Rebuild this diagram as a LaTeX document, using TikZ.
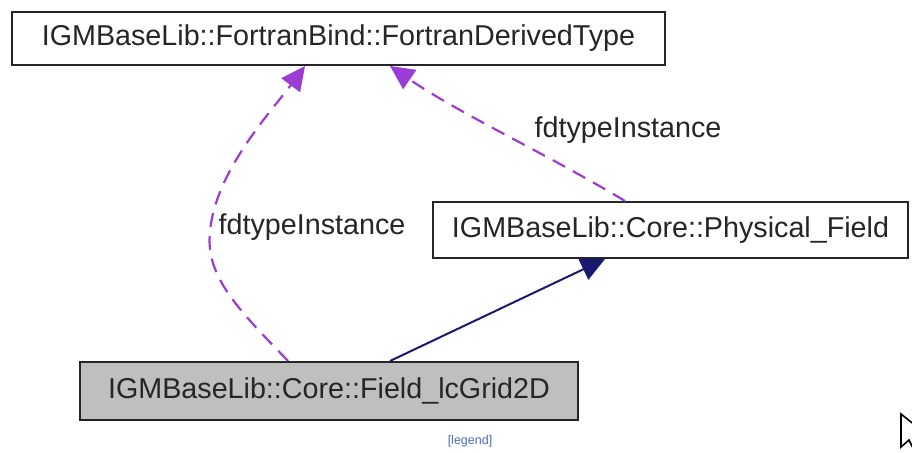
\documentclass[tikz,border=0pt]{standalone}
\usepackage{fontspec}
\setmainfont{Liberation Sans}
\usetikzlibrary{arrows.meta}
\definecolor{edgepurple}{RGB}{155,60,212}
\definecolor{edgenavy}{RGB}{25,25,112}
\definecolor{boxgray}{RGB}{191,191,191}
\definecolor{legendblue}{RGB}{80,110,180}
\begin{document}
\begin{tikzpicture}[x=1pt,y=1pt,
  classbox/.style={draw=black!85,line width=2pt,inner sep=0pt,
    font=\fontsize{28.7}{34}\selectfont,text=black!85},
  usesedge/.style={draw=edgepurple,line width=2.2pt,dash pattern=on 14pt off 9pt,
    -{Triangle[length=24pt,width=23pt]}},
  inheritedge/.style={draw=edgenavy,line width=2pt,
    -{Triangle[length=24pt,width=23pt]}},
  edgelabel/.style={font=\fontsize{28.7}{34}\selectfont,text=black!85,inner sep=0pt}]
\useasboundingbox (0,0) rectangle (912,452);
\fill[white] (0,0) rectangle (912,452);
\node[classbox,minimum width=653pt,minimum height=53pt] (top) at (338.5,413.5)
  {IGMBaseLib::FortranBind::FortranDerivedType};
\node[classbox,minimum width=475pt,minimum height=56pt] (phys) at (670.5,222)
  {IGMBaseLib::Core::Physical\_Field};
\node[classbox,fill=boxgray,minimum width=498pt,minimum height=58pt] (field) at (329,61)
  {IGMBaseLib::Core::Field\_lcGrid2D};
% edges
\draw[usesedge] ([xshift=-41pt]field.north) .. controls +(-48,50) and +(-5,-45) .. (210,220)
  .. controls +(5,60) and +(-35,-47) .. ([xshift=-33.5pt]top.south);
\draw[usesedge] ([xshift=-45.5pt]phys.north) .. controls +(-80,48) and +(70,-48) .. ([xshift=51.5pt]top.south);
\draw[inheritedge] ([xshift=61pt]field.north) -- ([xshift=-65.5pt]phys.south);
% labels
\node[edgelabel] (lblleft) at (312,225) {fdtypeInstance};
\node[edgelabel] (lblright) at (628,322) {fdtypeInstance};
\node[font=\fontsize{12.5}{14}\selectfont,text=legendblue,inner sep=0pt] (legend) at (470,11) {[legend]};
% cursor artifact
\begin{scope}
\clip (0,0) rectangle (912,452);
\draw[black,line width=1.6pt,fill=white,line join=miter]
  (901,38) -- (901,5) -- (909,12) -- (914,2) -- (916,2) -- (916,26) -- cycle;
\end{scope}
\end{tikzpicture}
\end{document}
